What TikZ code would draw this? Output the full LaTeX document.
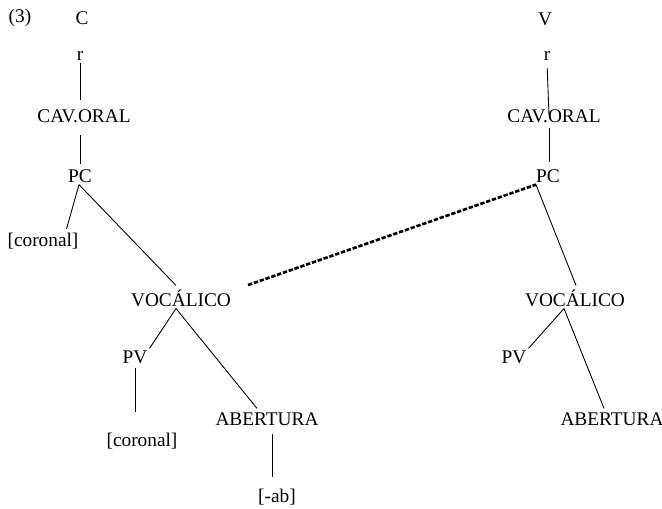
\documentclass[tikz,border=0pt]{standalone}
\usepackage{fontspec}
\setmainfont{Liberation Serif}
\usetikzlibrary{positioning}
\usetikzlibrary{calc}

\begin{document}
\begin{tikzpicture}[x=0.02cm, y=-0.02cm,
	feat/.style={inner sep=1pt, font=\fontsize{11}{13}\selectfont},
	branch/.style={line width=0.5pt},
	assoc/.style={line width=1.5pt, dash pattern=on 2.5pt off 1pt}]
	
	% ------------------------------------------------
	% Ensure the dimensions of graphic are appropriate
	\useasboundingbox (0,0) rectangle (662,508);
	
	% ------------------------------------------------
	% Consonant tree
	\node[feat] (Num) at (20,18) {(3)};
	\node[feat] (C) at (82,18) {C};
	\node[feat] (rC) at (80,56) {r};
	\node[feat] (CavC) at (84,116) {CAV.ORAL};
	\node[feat] (PCC) at (80,176) {PC};
	\node[feat] (CorC) at (43,241) {[coronal]};
	\node[feat] (VocC) at (181,298) {VOCÁLICO};
	\node[feat] (PVC) at (135,357) {PV};
	\node[feat] (CorVC) at (142,441) {[coronal]};
	\node[feat] (AbC) at (267,419) {ABERTURA};
	\node[feat] (AbVal) at (277,497) {[-ab]};
	
	% ------------------------------------------------
	% Vowel tree
	\node[feat] (V) at (545,19) {V};
	\node[feat] (rV) at (547,56) {r};
	\node[feat] (CavV) at (554,116) {CAV.ORAL};
	\node[feat] (PCV) at (548,176) {PC};
	\node[feat] (VocV) at (575,298) {VOCÁLICO};
	\node[feat] (PVV) at (514,357) {PV};
	\node[feat] (AbV) at (612,419) {ABERTURA};
	
	% ----------------
	% Branching points
	\path (PCC.south)  +(-1,0) coordinate (PCCfoot);
	\path (VocC.south) +(-5,0) coordinate (VocCfoot);
	\path (PCV.south)  +(-12,0) coordinate (PCVfoot);
	\path (VocV.south) +(-11,0) coordinate (VocVfoot);
	
	\path (CavC.south -| rC.south) coordinate (CavCfoot);
	\path (PCC.north -| rC.south)  coordinate (PCChead);
	\path (AbC.south)  +(5,0)  coordinate (AbCfoot);
	\path (AbVal.north -| AbCfoot) coordinate (AbValhead);
	\path (CavV.south) +(-5,-2) coordinate (CavVfoot);
	\path (PCV.north -| CavVfoot)  coordinate (PCVhead);
	
	%%%%%%%%%%%%%%%%%%%%%%%%%%%%%%%%%%%%%%%%%
	% Lines
	\draw[branch, shorten >=4pt] (rC.south) -- (rC.south |- CavC.north);
	\draw[branch, shorten <=6pt, shorten >=2pt] (CavCfoot) -- (PCChead);
	\draw[branch] (PCCfoot) -- ($(CorC.north east)+(-14,-2)$);
	\draw[branch] (PCCfoot) -- ($(VocC.north)+(-5,-2)$);
	\draw[branch] (VocCfoot) -- (PVC.north east);
	\draw[branch] (VocCfoot) -- ($(AbC.north)+(-10,-2)$);
	\draw[branch, shorten <=1.5pt, shorten >=11pt] (PVC.south) -- (PVC.south |- CorVC.north);
	\draw[branch, shorten <=3.5pt, shorten >=5.5pt] (AbCfoot) -- (AbValhead);
	
	\draw[branch, shorten <=3pt] (rV.south) -- ($(CavV.north)+(-5,8)$);
	\draw[branch, shorten <=3pt, shorten >=3pt] (CavVfoot) -- (PCVhead);
	\draw[branch] (PCVfoot) -- ($(VocV.north)+(1,-2)$);
	\draw[branch] (VocVfoot) -- (PVV.north east);
	\draw[branch] (VocVfoot) -- ($(AbV.north)+(-8,-2)$);
	
	\draw[assoc] ($(VocC.east)+(15,-13)$) -- (PCVfoot);
	
\end{tikzpicture}
\end{document}
